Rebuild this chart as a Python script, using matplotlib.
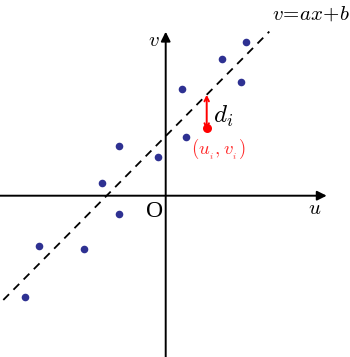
import matplotlib.pyplot as plt
import numpy as np

plt.rcParams['mathtext.fontset'] = 'cm'
plt.rcParams['font.family'] = ['Liberation Serif', 'DejaVu Serif']

# scatter points (u, v)
u_pts = [4.03, 2.83, 3.75, 0.80, 1.02, -2.32, -0.39, -3.20, -2.34, -6.32, -4.07, -7.05]
v_pts = [7.70, 6.85, 5.69, 5.34, 2.92, 2.49, 1.94, 0.65, -0.93, -2.53, -2.67, -5.05]

# highlighted point
ui, vi = 2.05, 3.39

# fitted line v = a*u + b
a = 1.009
b = 2.98
line_u = [-8.12, 5.18]

fig = plt.figure(figsize=(3.5, 3.57), dpi=100)
ax = fig.add_axes([0, 0, 1, 1])
ax.set_xlim(-8.285, 9.215)
ax.set_ylim(-8.065, 9.785)
ax.axis('off')

# axes with arrows
ax.annotate('', xy=(8.05, 0), xytext=(-8.285, 0),
            arrowprops=dict(arrowstyle='-|>', color='black', lw=1.4,
                            mutation_scale=14, shrinkA=0, shrinkB=0))
ax.annotate('', xy=(0, 8.2), xytext=(0, -8.065),
            arrowprops=dict(arrowstyle='-|>', color='black', lw=1.4,
                            mutation_scale=14, shrinkA=0, shrinkB=0))

# regression line
lu = np.array(line_u)
ax.plot(lu, a * lu + b, color='black', lw=1.3, ls=(0, (4.5, 3.5)))

ax.scatter(u_pts, v_pts, s=30, color='#2e3192', zorder=3, linewidths=0)

# residual
ax.annotate('', xy=(ui, a * ui + b), xytext=(ui, vi - 0.1),
            arrowprops=dict(arrowstyle='<->', color='red', lw=1.4,
                            mutation_scale=8, shrinkA=0, shrinkB=0))
ax.scatter([ui], [vi], s=42, color='red', zorder=4, linewidths=0)

ax.text(5.3, 9.03, r'$v\!=\!ax\!+\!b$', fontsize=15, ha='left', va='center')
ax.text(-0.3, 7.7, r'$v$', fontsize=15, ha='right', va='center')
ax.text(7.47, -0.68, r'$u$', fontsize=15, ha='center', va='center')
ax.text(-0.12, -0.79, 'O', fontsize=17, ha='right', va='center')
ax.text(2.36, 3.95, r'$d_i$', fontsize=18, ha='left', va='center')
ax.text(1.28, 2.38, r'$(u_{_i},v_{_i})$', fontsize=13.5, color='#ff2a2a',
        ha='left', va='center')

fig.savefig('out.png', dpi=100)
